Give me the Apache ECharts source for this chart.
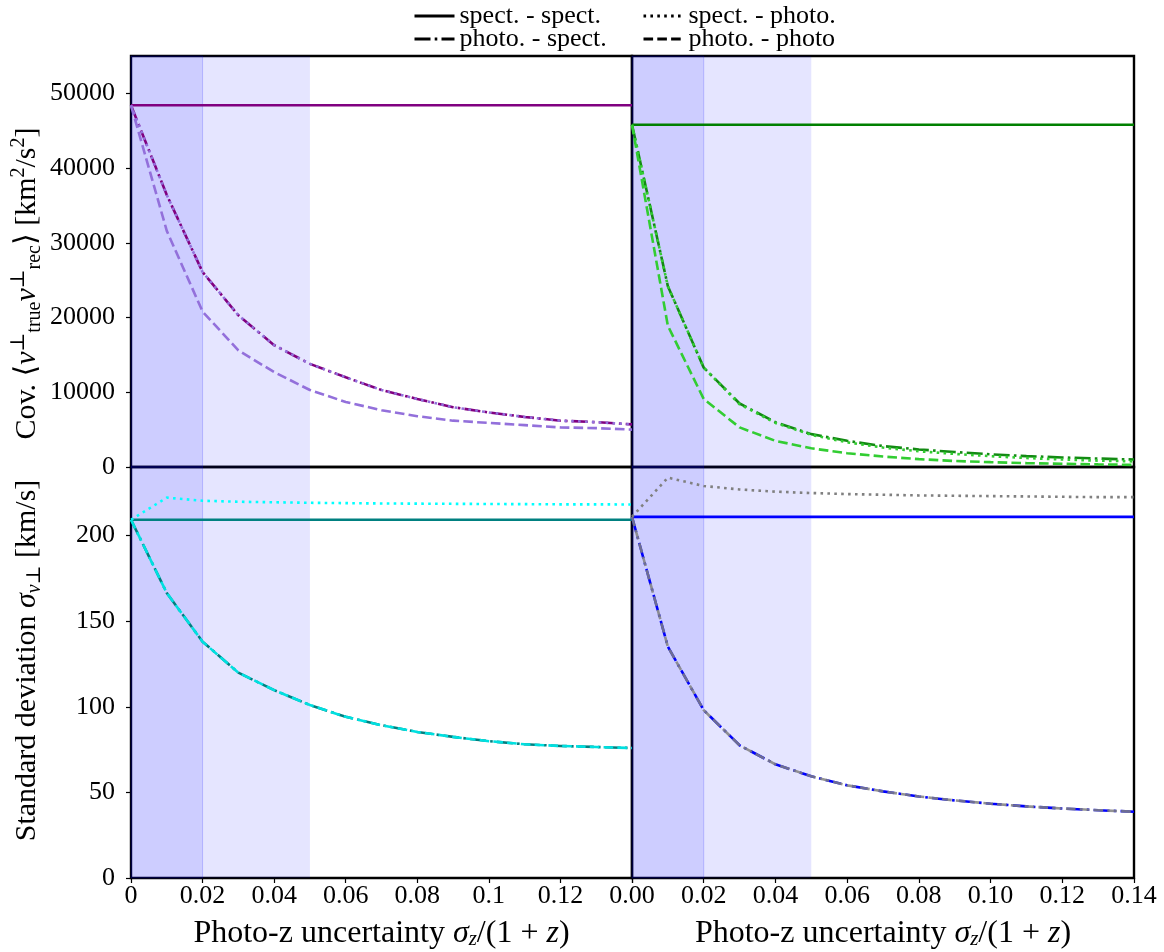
<!DOCTYPE html>
<html>
<head>
<meta charset="utf-8">
<script src="https://cdn.jsdelivr.net/npm/echarts@6/dist/echarts.min.js"></script>
<style>
html,body{margin:0;padding:0;background:#fff;}
#chart{width:1164px;height:952px;}
</style>
</head>
<body>
<div id="chart"></div>
<script>
// ---------- data ----------
const xValues = [0, 0.01, 0.02, 0.03, 0.04, 0.05, 0.06, 0.07, 0.08, 0.09, 0.10, 0.11, 0.12, 0.13, 0.14];

// Top-left (covariance, purple)
const covL_specSpec  = [48400, 48400, 48400, 48400, 48400, 48400, 48400, 48400, 48400, 48400, 48400, 48400, 48400, 48400, 48400];
const covL_photoSpec = [48400, 36400, 26100, 20300, 16300, 13800, 12000, 10300, 9100, 8000, 7300, 6700, 6200, 6000, 5700];
const covL_specPhoto = [48400, 36400, 26100, 20300, 16300, 13800, 12000, 10300, 9100, 8000, 7300, 6700, 6200, 6000, 5700];
const covL_photoPhoto= [48400, 31600, 20800, 15600, 12700, 10300, 8700, 7600, 6800, 6200, 5900, 5600, 5300, 5200, 5000];

// Top-right (covariance, green)
const covR_specSpec  = [45800, 45800, 45800, 45800, 45800, 45800, 45800, 45800, 45800, 45800, 45800, 45800, 45800, 45800, 45800];
const covR_photoSpec = [45800, 24200, 13300, 8500, 6000, 4400, 3500, 2800, 2350, 2000, 1700, 1450, 1280, 1130, 1000];
const covR_specPhoto = [45800, 24200, 13300, 8400, 5900, 4300, 3300, 2600, 2100, 1750, 1450, 1200, 1000, 850, 750];
const covR_photoPhoto= [45800, 18900, 9100, 5300, 3500, 2500, 1850, 1400, 1050, 800, 650, 520, 430, 350, 280];

// Bottom-left (std dev, teal / cyan)
const stdL_specSpec  = [209.2, 209.2, 209.2, 209.2, 209.2, 209.2, 209.2, 209.2, 209.2, 209.2, 209.2, 209.2, 209.2, 209.2, 209.2];
const stdL_specPhoto = [209.2, 222.1, 220.3, 219.7, 219.4, 219.1, 218.9, 218.7, 218.6, 218.5, 218.4, 218.3, 218.2, 218.2, 218.1];
const stdL_photoSpec = [209.2, 166.4, 138.0, 119.9, 109.7, 101.0, 94.1, 89.2, 85.3, 82.4, 79.9, 78.1, 77.1, 76.5, 75.9];
const stdL_photoPhoto= [209.2, 166.4, 138.0, 119.9, 109.7, 101.0, 94.1, 89.2, 85.3, 82.4, 79.9, 78.1, 77.1, 76.5, 75.9];

// Bottom-right (std dev, blue / gray)
const stdR_specSpec  = [210.9, 210.9, 210.9, 210.9, 210.9, 210.9, 210.9, 210.9, 210.9, 210.9, 210.9, 210.9, 210.9, 210.9, 210.9];
const stdR_specPhoto = [210.9, 233.8, 228.9, 226.9, 225.6, 224.8, 224.2, 223.8, 223.4, 223.2, 223.0, 222.8, 222.6, 222.4, 222.4];
const stdR_photoSpec = [210.9, 135.1, 98.0, 77.5, 66.4, 59.4, 54.1, 50.6, 47.6, 45.3, 43.4, 41.8, 40.6, 39.6, 38.7];
const stdR_photoPhoto= [210.9, 135.1, 98.0, 77.5, 66.4, 59.4, 54.1, 50.6, 47.6, 45.3, 43.4, 41.8, 40.6, 39.6, 38.7];

// ticks and labels
const xTicks = [0, 0.02, 0.04, 0.06, 0.08, 0.10, 0.12, 0.14];
const xLabelsLeft = ['0', '0.02', '0.04', '0.06', '0.08', '0.1', '0.12'];
const xLabelsRight = ['0.00', '0.02', '0.04', '0.06', '0.08', '0.10', '0.12', '0.14'];
const covTicks = [0, 10000, 20000, 30000, 40000, 50000];
const stdTicks = [0, 50, 100, 150, 200];
const bandInner = [0, 0.02];
const bandOuter = [0, 0.05];
const legendNames = ['spect. - spect.', 'spect. - photo.', 'photo. - spect.', 'photo. - photo'];

// ---------- styles ----------
const FONT = "'Liberation Serif', 'DejaVu Serif', serif";
const LW = 2.6;
const DASH = {
  solid: 'solid',
  dotted: [2.6, 4.3],
  dashdot: [16, 4.2, 2.6, 4.2],
  dashed: [9.6, 4.2]
};

function pts(arr) { return xValues.map((x, i) => [x, arr[i]]); }

function lineSeries(name, gi, arr, color, type, opacity) {
  return {
    name: name, type: 'line', xAxisIndex: gi, yAxisIndex: gi,
    data: pts(arr), symbol: 'none', smooth: false, silent: true,
    itemStyle: { color: color },
    lineStyle: { color: color, width: LW, type: type, opacity: opacity == null ? 1 : opacity, cap: 'butt' },
    z: 3
  };
}

function bandSeries(gi) {
  return {
    name: 'band' + gi, type: 'line', xAxisIndex: gi, yAxisIndex: gi, data: [],
    silent: true, z: 1,
    markArea: {
      silent: true,
      data: [
        [{ xAxis: bandOuter[0], itemStyle: { color: 'rgba(0,0,255,0.1)' } }, { xAxis: bandOuter[1] }],
        [{ xAxis: bandInner[0], itemStyle: { color: 'rgba(0,0,255,0.1)', borderColor: 'rgba(0,0,255,0.18)', borderWidth: 1 } }, { xAxis: bandInner[1] }]
      ]
    }
  };
}

const grids = [
  { left: 131, top: 56, width: 501, height: 411 },
  { left: 632, top: 56, width: 502, height: 411 },
  { left: 131, top: 467, width: 501, height: 411 },
  { left: 632, top: 467, width: 502, height: 411 }
].map(g => Object.assign({ show: true, borderColor: '#000', borderWidth: 2.4, backgroundColor: 'transparent' }, g));

const tickLabelStyle = { color: '#000', fontFamily: FONT, fontSize: 26 };

function xAxis(gi, showLabels, labels) {
  const ax = {
    type: 'value', gridIndex: gi, min: 0, max: 0.14, interval: 0.02,
    axisLine: { show: false }, splitLine: { show: false },
    axisTick: { show: showLabels, length: 5, lineStyle: { color: '#000', width: 1.2 }, customValues: xTicks },
    axisLabel: { show: showLabels, margin: 5, ...tickLabelStyle,
      customValues: xTicks.slice(0, labels ? labels.length : 0),
      formatter: v => labels ? labels[Math.round(v / 0.02)] : '' }
  };
  if (showLabels) {
    ax.name = 'Photo-z uncertainty {it|σ}{sub|z}/(1 + {it|z})';
    ax.nameLocation = 'middle';
    ax.nameGap = 39;
    ax.nameTextStyle = {
      color: '#000', fontFamily: FONT, fontSize: 32,
      rich: {
        it: { fontFamily: FONT, fontSize: 32, fontStyle: 'italic', color: '#000' },
        sub: { fontFamily: FONT, fontSize: 21, fontStyle: 'italic', color: '#000', verticalAlign: 'bottom', padding: [12, 0, 0, 0] }
      }
    };
  }
  return ax;
}

function yAxis(gi, max, ticks, showLabels, name, shiftPad) {
  const ax = {
    type: 'value', gridIndex: gi, min: 0, max: max,
    axisLine: { show: false }, splitLine: { show: false },
    axisTick: { show: showLabels, length: 5, lineStyle: { color: '#000', width: 1.2 }, customValues: ticks },
    axisLabel: { show: showLabels, margin: 16, ...tickLabelStyle, customValues: ticks, formatter: v => String(v) }
  };
  if (name) {
    ax.name = name;
    ax.nameLocation = 'middle';
    ax.nameRotate = 90;
    ax.nameGap = 86;
    ax.nameTextStyle = {
      color: '#000', fontFamily: FONT, fontSize: 30, lineHeight: 36, padding: shiftPad,
      rich: {
        it: { fontFamily: FONT, fontSize: 30, fontStyle: 'italic', color: '#000' },
        sup: { fontFamily: FONT, fontSize: 20, color: '#000', verticalAlign: 'top', padding: [0, 0, 11, 0] },
        sub: { fontFamily: FONT, fontSize: 20, color: '#000', verticalAlign: 'bottom', padding: [11, 0, 0, 0] },
        subit: { fontFamily: FONT, fontSize: 20, fontStyle: 'italic', color: '#000', verticalAlign: 'bottom', padding: [11, 0, 0, 0] }
      }
    };
  }
  return ax;
}

const covName = 'Cov. ⟨{it|v}{sup|⊥}{sub|true}{it|v}{sup|⊥}{sub|rec}⟩ [km{sup|2}/s{sup|2}]';
const stdName = 'Standard deviation {it|σ}{subit|v⊥} [km/s]';

const series = [];
[0, 1, 2, 3].forEach(gi => series.push(bandSeries(gi)));

// legend proxies (black)
series.push(lineSeries(legendNames[0], 0, [], '#000', DASH.solid));
series.push(lineSeries(legendNames[1], 0, [], '#000', DASH.dotted));
series.push(lineSeries(legendNames[2], 0, [], '#000', DASH.dashdot));
series.push(lineSeries(legendNames[3], 0, [], '#000', DASH.dashed));
series.slice(-4).forEach(s => { s.data = []; });

// Top-left
series.push(lineSeries('TL ss', 0, covL_specSpec, '#800080', DASH.solid));
series.push(lineSeries('TL ps', 0, covL_photoSpec, '#800080', DASH.dashdot));
series.push(lineSeries('TL sp', 0, covL_specPhoto, '#9370DB', DASH.dotted));
series.push(lineSeries('TL pp', 0, covL_photoPhoto, '#9370DB', DASH.dashed));
// Top-right
series.push(lineSeries('TR ss', 1, covR_specSpec, '#008000', DASH.solid));
series.push(lineSeries('TR ps', 1, covR_photoSpec, '#138a13', DASH.dashdot));
series.push(lineSeries('TR sp', 1, covR_specPhoto, '#32CD32', DASH.dotted));
series.push(lineSeries('TR pp', 1, covR_photoPhoto, '#32CD32', DASH.dashed));
// Bottom-left
series.push(lineSeries('BL ss', 2, stdL_specSpec, '#008080', DASH.solid));
series.push(lineSeries('BL ps', 2, stdL_photoSpec, '#008080', DASH.dashdot));
series.push(lineSeries('BL sp', 2, stdL_specPhoto, '#00FFFF', DASH.dotted));
series.push(lineSeries('BL pp', 2, stdL_photoPhoto, '#00E0E0', DASH.dashed));
// Bottom-right
series.push(lineSeries('BR ss', 3, stdR_specSpec, '#0000FF', DASH.solid));
series.push(lineSeries('BR ps', 3, stdR_photoSpec, '#0000FF', DASH.dashdot));
series.push(lineSeries('BR sp', 3, stdR_specPhoto, '#808080', DASH.dotted));
series.push(lineSeries('BR pp', 3, stdR_photoPhoto, '#808080', DASH.dashed, 0.85));

const legendText = { color: '#000', fontFamily: FONT, fontSize: 26, lineHeight: 22 };
function legendAt(name, left, top) {
  return { data: [name], left: left, top: top, itemWidth: 40, itemHeight: 14, itemGap: 0, padding: 0,
    textStyle: legendText, selectedMode: false,
    itemStyle: { color: 'rgba(0,0,0,0)', borderColor: 'rgba(0,0,0,0)', borderWidth: 0, opacity: 0 },
    lineStyle: { width: 3 } };
}

const option = {
  animation: false,
  backgroundColor: '#fff',
  grid: grids,
  xAxis: [xAxis(0, false), xAxis(1, false), xAxis(2, true, xLabelsLeft), xAxis(3, true, xLabelsRight)],
  yAxis: [
    yAxis(0, 55000, covTicks, true, covName, [0, 44, 0, 0]),
    yAxis(1, 55000, covTicks, false),
    yAxis(2, 240, stdTicks, true, stdName, [0, 0, 0, 24]),
    yAxis(3, 240, stdTicks, false)
  ],
  legend: [
    legendAt(legendNames[0], 413, 3),
    legendAt(legendNames[1], 642, 3),
    legendAt(legendNames[2], 413, 26),
    legendAt(legendNames[3], 642, 26)
  ],
  series: series
};

const chart = echarts.init(document.getElementById('chart'), null, { renderer: 'canvas' });
chart.setOption(option);
</script>
</body>
</html>
